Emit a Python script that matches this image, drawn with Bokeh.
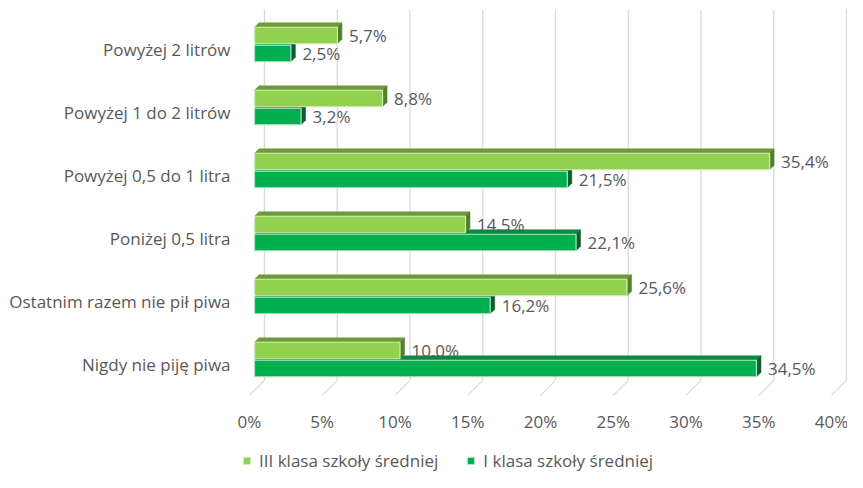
from bokeh.plotting import figure
from bokeh.models import Range1d, FixedTicker, Legend, LegendItem
from bokeh.core.properties import value
from bokeh.embed import file_html
from bokeh.resources import INLINE

# ---------------- data ----------------
categories = [
    "Powyżej 2 litrów",
    "Powyżej 1 do 2 litrów",
    "Powyżej 0,5 do 1 litra",
    "Poniżej 0,5 litra",
    "Ostatnim razem nie pił piwa",
    "Nigdy nie piję piwa",
]
series_names = ["III klasa szkoły średniej", "I klasa szkoły średniej"]
values_iii = [5.7, 8.8, 35.4, 14.5, 25.6, 10.0]
values_i = [2.5, 3.2, 21.5, 22.1, 16.2, 34.5]
tick_values = [0, 5, 10, 15, 20, 25, 30, 35, 40]
tick_labels = ["0%", "5%", "10%", "15%", "20%", "25%", "30%", "35%", "40%"]

# ---------------- layout ----------------
W, H = 847, 472
LEFT = 230          # frame left edge (px)
ZERO_OFF = 19       # px from frame left to 0 %
PX_X = 14.55        # px per percent
PX_Y = 63.0         # px per category
TOP_CAT_PX = 49     # px from top to centre of first category
x_start = -ZERO_OFF / PX_X
x_end = x_start + (W - LEFT) / PX_X
y_top = 5 + TOP_CAT_PX / PX_Y
y_bottom = y_top - H / PX_Y

FONT = "Open Sans"
TXT = "#595959"
GRID = "#d9d9d9"

FRONT_DEPTH = 5.0   # px, depth of bar front face
THICK = 4.5         # px, bar depth thickness
WALL_DEPTH = 15.0   # px, depth of back wall
BAR_H = 16.5        # px
GAP = 1.5           # px
FLOOR = -0.49       # category units
WALL_TOP_PX = 9     # px from top
TICK_LABEL_PX = 421 # px from top (centre of x tick labels)


def px(dx, dy):
    return dx / PX_X, dy / PX_Y


n = len(categories)
gy = [n - 1 - i for i in range(n)]

p = figure(width=W, height=H, output_backend="svg", toolbar_location=None,
           x_range=Range1d(x_start, x_end), y_range=Range1d(y_bottom, y_top),
           min_border_left=LEFT, min_border_right=0, min_border_top=0,
           min_border_bottom=0)
p.outline_line_color = None
p.background_fill_color = "white"
p.border_fill_color = "white"
p.xgrid.visible = False
p.ygrid.visible = False
p.xaxis.visible = False

# ---------------- back wall gridlines and floor ----------------
wdx, wdy = px(WALL_DEPTH, WALL_DEPTH)
wall_top = y_top - WALL_TOP_PX / PX_Y
p.segment(x0=[t + wdx for t in tick_values], y0=[FLOOR + wdy] * len(tick_values),
          x1=[t + wdx for t in tick_values], y1=[wall_top] * len(tick_values),
          line_color=GRID, line_width=1.3)
p.segment(x0=tick_values, y0=[FLOOR] * len(tick_values),
          x1=[t + wdx for t in tick_values], y1=[FLOOR + wdy] * len(tick_values),
          line_color=GRID, line_width=1.3)

# x tick labels (at the front edge of the floor)
p.text(x=tick_values, y=[y_top - TICK_LABEL_PX / PX_Y] * len(tick_values),
       text=tick_labels, text_font=value(FONT), text_font_size="17px",
       text_color=TXT, text_align="center", text_baseline="middle")

# ---------------- 3D bars ----------------
fdx, fdy = px(FRONT_DEPTH, FRONT_DEPTH)
tdx, tdy = px(THICK, THICK)
half = (BAR_H / 2 + GAP / 2) / PX_Y
bh = BAR_H / PX_Y

styles = [
    # light (upper), dark (lower)
    dict(front="#92D050", top="#6E9B38", side="#52802A", edge="#D3EDBB", sign=1),
    dict(front="#00B050", top="#0A8A3C", side="#0B5E2C", edge="#B3E3C4", sign=-1),
]
series_values = [values_iii, values_i]

front_renderers = {}
label_x, label_y, label_txt = [], [], []
for k in (1, 0):  # draw dark first, then light over it
    st = styles[k]
    vals = series_values[k]
    yc = [g + fdy + st["sign"] * half for g in gy]
    x0 = fdx
    x1 = [v + fdx for v in vals]
    yt = [c + bh / 2 for c in yc]
    yb = [c - bh / 2 for c in yc]
    top_xs = [[x0, x0 + tdx, r + tdx, r] for r in x1]
    top_ys = [[t, t + tdy, t + tdy, t] for t in yt]
    side_xs = [[r, r + tdx, r + tdx, r] for r in x1]
    side_ys = [[t, t + tdy, b + tdy, b] for t, b in zip(yt, yb)]
    p.patches(top_xs, top_ys, fill_color=st["top"], line_color=st["top"], line_width=0.5)
    p.patches(side_xs, side_ys, fill_color=st["side"], line_color=st["side"], line_width=0.5)
    fr = p.hbar(y=yc, left=x0, right=x1, height=bh, fill_color=st["front"],
                line_color=st["edge"], line_width=1.2)
    front_renderers[k] = fr
    for v, r, c in zip(vals, x1, yc):
        label_x.append(r + tdx + 7 / PX_X)
        label_y.append(c)
        label_txt.append(f"{v:.1f}".replace(".", ",") + "%")

p.text(x=label_x, y=label_y, text=label_txt, text_font=value(FONT),
       text_font_size="17px", text_color=TXT, text_align="left",
       text_baseline="middle")

# ---------------- category axis ----------------
ax = p.yaxis[0]
ax.ticker = FixedTicker(ticks=gy)
ax.major_label_overrides = {g: c for g, c in zip(gy, categories)}
ax.axis_line_color = None
ax.major_tick_line_color = None
ax.minor_tick_line_color = None
ax.major_tick_out = 0
ax.major_tick_in = 0
ax.major_label_text_font = FONT
ax.major_label_text_font_size = "17px"
ax.major_label_text_color = TXT
ax.major_label_standoff = 0

# ---------------- legend ----------------
legend = Legend(items=[LegendItem(label=series_names[0], renderers=[front_renderers[0]]),
                       LegendItem(label=series_names[1], renderers=[front_renderers[1]])],
                orientation="horizontal", location=(12, 0),
                border_line_color=None, background_fill_alpha=0,
                padding=0, margin=0, spacing=28, label_standoff=8,
                glyph_width=9, glyph_height=9,
                label_text_font=FONT, label_text_font_size="17px",
                label_text_color=TXT)
p.add_layout(legend)

open("out.html", "w").write(file_html(p, INLINE))
